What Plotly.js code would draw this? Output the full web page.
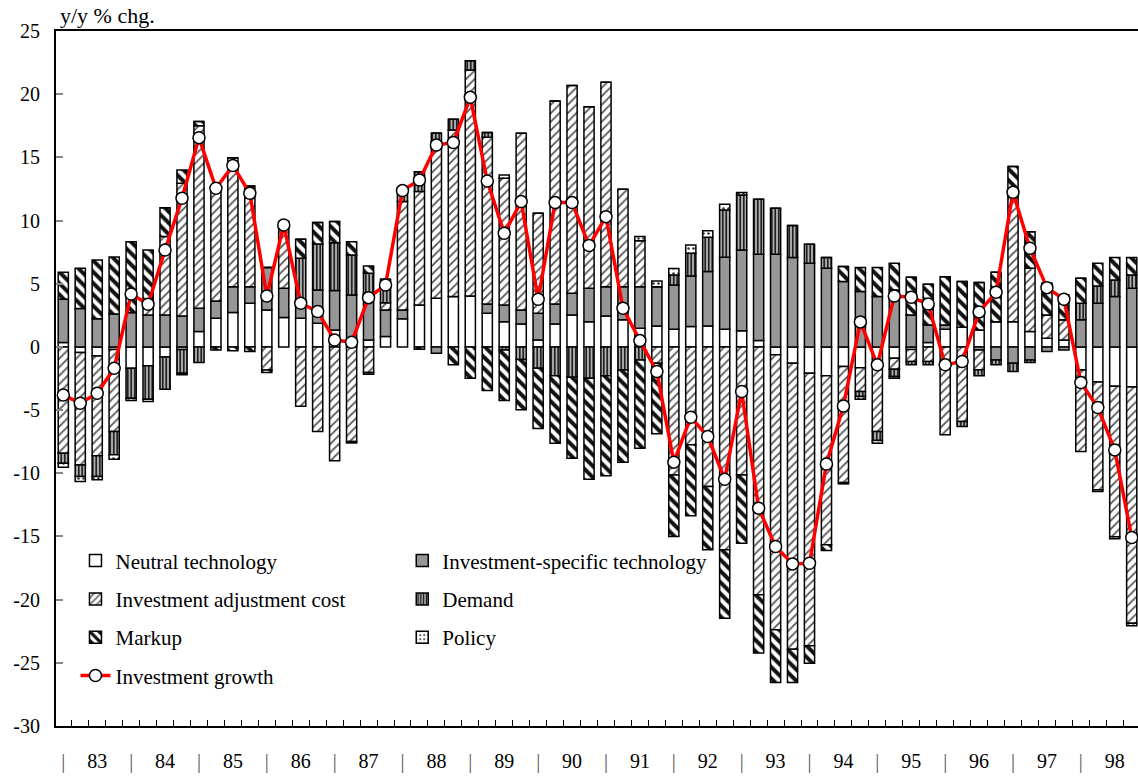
<!DOCTYPE html>
<html>
<head>
<meta charset="utf-8">
<script src="https://cdn.plot.ly/plotly-3.0.1.min.js"></script>
<style>html,body{margin:0;padding:0;background:#fff;}#chart{width:1138px;height:780px;}</style>
</head>
<body>
<div id="chart"></div>
<script>
// Quarterly data 1983Q1 .. 1998Q4 (64 quarters), y/y % change contributions
const yearLabels = ['83','84','85','86','87','88','89','90','91','92','93','94','95','96','97','98'];
const yTickVals = [25,20,15,10,5,0,-5,-10,-15,-20,-25,-30];
const yTickText = ['25','20','15','10','5','0','-5','-10','-15','-20','-25','-30'];

const neutral = [0.34,-0.45,-0.71,-0.2,-1.69,-1.5,-0.8,-0.2,1.21,2.27,2.72,3.45,2.93,2.32,2.27,1.87,
  1.34,0,0.55,0.82,2.22,3.32,3.85,3.98,4.03,2.66,2.0,1.82,0.55,1.82,2.53,2.0,
  2.45,2.14,1.48,1.66,1.40,1.61,1.66,1.40,1.27,0.5,-0.63,-1.29,-2.08,-2.29,-1.56,-1.65,
  -1.42,-0.9,-0.2,0.34,1.40,1.56,1.34,2.0,2.0,1.21,0.69,0.55,-1.82,-2.78,-3.12,-3.17];
const investSpecific = [3.43,3.03,2.22,2.61,2.72,2.53,2.53,2.45,1.85,1.37,2.05,1.32,3.35,2.32,1.45,2.64,
  3.12,4.11,3.65,2.11,0.71,0,-0.5,0,0,0.74,1.32,1.11,2.11,1.58,1.72,2.64,
  2.32,2.63,3.29,3.11,3.50,4.01,4.30,5.69,6.40,6.83,7.33,7.07,6.62,6.22,5.17,4.38,
  3.98,4.5,2.53,1.40,0.34,0,-0.25,-1.03,-1.29,-1.03,-0.37,-0.24,2.14,3.45,3.98,4.64];
const adjCost = [-8.41,-8.89,-7.91,-6.5,0,0.66,6.2,10.5,14.44,9.0,10.2,7.52,-1.82,4.88,-4.7,-6.7,
  -9.0,-7.49,-2.03,0.57,8.57,8.97,12.39,13.19,17.88,13.19,10.03,13.97,7.91,16.06,16.43,14.37,
  16.17,7.7,3.64,-1.29,-10.13,-7.75,-11.05,-16.06,-10.13,-19.62,-21.76,-22.63,-21.57,-13.37,-9.18,-1.88,
  -5.28,-0.87,-0.95,-1.16,-6.96,-5.91,-1.55,0,9.89,5.01,1.84,1.6,-6.46,-8.53,-11.9,-18.69];
const demand = [-0.79,-0.92,-1.64,-1.84,-2.37,-2.64,-2.55,-1.88,-1.24,0,0,0.45,0,0,3.29,3.64,
  3.79,3.17,1.63,1.4,1.05,1.58,0.66,0.84,0.74,0.37,-0.24,-1.0,-1.69,-2.29,-2.4,-2.48,
  -2.29,-1.82,-1.03,0,0.8,1.79,2.72,3.75,4.36,4.35,3.64,2.53,1.50,0.85,-0.1,-0.4,
  -0.71,-0.58,-0.27,-0.26,0,-0.39,-0.49,-0.39,-0.66,-0.21,0,0,1.31,1.38,1.32,1.06];
const markup = [2.14,3.19,4.66,4.51,5.61,4.48,2.29,1.05,0.33,-0.25,-0.3,-0.37,-0.21,0.4,1.51,1.69,
  1.67,1.05,0.58,0.45,0,-0.18,0,-1.42,-2.48,-3.45,-4.01,-3.98,-4.77,-5.33,-6.41,-7.99,
  -7.91,-7.3,-6.99,-5.59,-4.87,-5.62,-5.01,-5.41,-5.40,-4.61,-4.17,-2.64,-1.38,-0.45,1.19,1.9,
  2.3,2.12,2.98,3.22,3.82,3.61,3.75,3.91,2.38,2.9,2.51,1.96,1.98,1.79,1.77,1.37];
const policy = [-0.32,-0.39,-0.26,-0.35,-0.19,-0.18,0,-0.12,0,0,0,0,0,0,0,0,
  0,-0.11,-0.13,0,0,0,0,0,0,0,0.26,0,0,0,0,0,
  0,0,0.32,0.45,0.5,0.66,0.52,0.45,0.18,0,0,0,0,0,0,-0.21,
  -0.21,-0.13,0,0,0,0,0,0,0,0,0,0,0,-0.14,-0.17,-0.21];
const invGrowth = [-3.80,-4.46,-3.67,-1.69,4.19,3.38,7.67,11.76,16.56,12.55,14.35,12.16,4.03,9.65,3.45,2.80,
  0.55,0.37,3.90,4.90,12.37,13.21,15.98,16.17,19.75,13.13,8.99,11.50,3.77,11.42,11.42,8.02,
  10.31,3.06,0.50,-1.95,-9.12,-5.56,-7.09,-10.47,-3.53,-12.76,-15.80,-17.17,-17.12,-9.26,-4.67,1.98,
  -1.42,4.03,3.93,3.40,-1.42,-1.16,2.77,4.32,12.24,7.81,4.69,3.77,-2.82,-4.80,-8.15,-15.08];

// quarter positions along the axis (0 = 1983Q1)
const q = invGrowth.map((_, i) => i);

// x tick labels: "|" at each Q1, year at each Q3
const xTickVals = [], xTickText = [];
yearLabels.forEach((yr, k) => {
  xTickVals.push(4 * k);     xTickText.push('<span style="color:#555555">|</span>');
  xTickVals.push(4 * k + 2); xTickText.push(yr);
});

const FONT = 'Liberation Serif, "Times New Roman", Times, serif';
const outline = {color: '#000', width: 1.5};
const BW = 0.6;

function barTrace(name, y, marker, legend, grp) {
  return {type: 'bar', name: name, x: q, y: y, width: BW,
    marker: Object.assign({line: outline}, marker),
    legend: legend, legendgroup: grp, hoverinfo: 'skip'};
}

const traces = [
  barTrace('Neutral technology', neutral, {color: '#ffffff'}, 'legend', 'g1'),
  barTrace('Investment-specific technology', investSpecific, {color: '#969696'}, 'legend2', 'g2'),
  barTrace('Investment adjustment cost', adjCost,
    {color: '#ffffff', pattern: {shape: '/', fgcolor: '#555555', bgcolor: '#ffffff', size: 6, solidity: 0.3}}, 'legend', 'g3'),
  barTrace('Demand', demand,
    {color: '#aaaaaa', pattern: {shape: '|', fgcolor: '#111111', bgcolor: '#b0b0b0', size: 3.5, solidity: 0.45}}, 'legend2', 'g4'),
  barTrace('Markup', markup,
    {color: '#ffffff', pattern: {shape: '\\', fgcolor: '#111111', bgcolor: '#ffffff', size: 8, solidity: 0.5}}, 'legend', 'g5'),
  barTrace('Policy', policy,
    {color: '#ffffff', pattern: {shape: '.', fgcolor: '#333333', bgcolor: '#ffffff', size: 5, solidity: 0.2}}, 'legend2', 'g6'),
  {type: 'scatter', mode: 'lines+markers', name: 'Investment growth', x: q, y: invGrowth,
    line: {color: '#ff0000', width: 3.5},
    marker: {symbol: 'circle', size: 12, color: '#ffffff', line: {color: '#000', width: 1.5}},
    legend: 'legend', legendgroup: 'g7', hoverinfo: 'skip'}
];

const legendCommon = {
  xanchor: 'left', yanchor: 'top', bgcolor: 'rgba(0,0,0,0)', borderwidth: 0,
  font: {family: FONT, size: 21, color: '#000'}, tracegroupgap: 8, orientation: 'v', traceorder: 'grouped'
};

const layout = {
  width: 1138, height: 780,
  margin: {l: 56, r: 0, t: 31, b: 54, pad: 0},
  paper_bgcolor: '#fff', plot_bgcolor: '#fff',
  font: {family: FONT, size: 20, color: '#000'},
  barmode: 'relative', bargap: 0.4,
  showlegend: true,
  legend: Object.assign({x: 0.018, y: 0.267}, legendCommon),
  legend2: Object.assign({x: 0.32, y: 0.267}, legendCommon),
  xaxis: {
    range: [-0.43, 63.37], showgrid: false, zeroline: false,
    showline: true, linecolor: '#000', linewidth: 2, mirror: true,
    tickmode: 'array', tickvals: xTickVals, ticktext: xTickText, ticks: '',
    ticklabelstandoff: 16, tickfont: {family: FONT, size: 20, color: '#000'},
    minor: {tickmode: 'linear', tick0: 0.5, dtick: 1, ticks: 'inside', ticklen: 6, tickwidth: 1, tickcolor: '#000', showgrid: false}
  },
  yaxis: {
    range: [-30, 25], showgrid: false, zeroline: false,
    showline: true, linecolor: '#000', linewidth: 2,
    tickmode: 'array', tickvals: yTickVals, ticktext: yTickText,
    ticks: 'inside', ticklen: 7, tickwidth: 2, tickcolor: '#888',
    ticklabelstandoff: 10, tickfont: {family: FONT, size: 20, color: '#000'}
  },
  annotations: [{
    text: 'y/y % chg.', xref: 'paper', yref: 'paper', x: 0, y: 1,
    xanchor: 'left', yanchor: 'bottom', xshift: 2, yshift: 1, showarrow: false,
    font: {family: FONT, size: 22, color: '#000'}
  }]
};

Plotly.newPlot('chart', traces, layout, {staticPlot: true, displayModeBar: false});
</script>
</body>
</html>
